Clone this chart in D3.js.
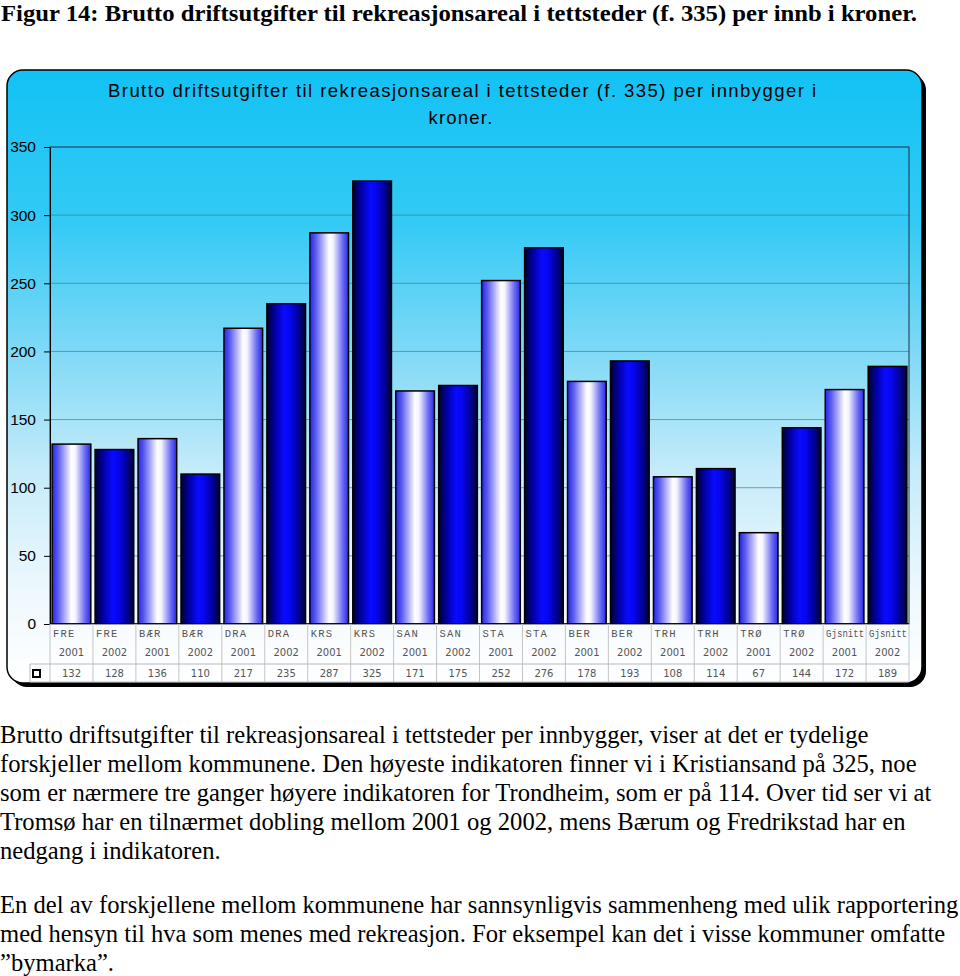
<!DOCTYPE html>
<html><head><meta charset="utf-8">
<script src="https://cdn.jsdelivr.net/npm/d3@7"></script>
<style>body{margin:0;background:#fff}svg{display:block}</style>
</head><body>
<script>
const municipalities = ["FRE","BÆR","DRA","KRS","SAN","STA","BER","TRH","TRØ","Gjsnitt"];
const years = ["2001","2002"];
const values = [132,128,136,110,217,235,287,325,171,175,252,276,178,193,108,114,67,144,172,189];
const yTicks = [0,50,100,150,200,250,300,350];
const figTitle = "Figur 14: Brutto driftsutgifter til rekreasjonsareal i tettsteder (f. 335) per innb i kroner.";
const chartTitle = ["Brutto driftsutgifter til rekreasjonsareal i tettsteder (f. 335) per innbygger i","kroner."];
const bodyLines1 = [
 "Brutto driftsutgifter til rekreasjonsareal i tettsteder per innbygger, viser at det er tydelige",
 "forskjeller mellom kommunene. Den høyeste indikatoren finner vi i Kristiansand på 325, noe",
 "som er nærmere tre ganger høyere indikatoren for Trondheim, som er på 114. Over tid ser vi at",
 "Tromsø har en tilnærmet dobling mellom 2001 og 2002, mens Bærum og Fredrikstad har en",
 "nedgang i indikatoren."];
const bodyLines2 = [
 "En del av forskjellene mellom kommunene har sannsynligvis sammenheng med ulik rapportering",
 "med hensyn til hva som menes med rekreasjon. For eksempel kan det i visse kommuner omfatte",
 "\u201Dbymarka\u201D."];

(function(){
const rows = [];
municipalities.forEach(m => years.forEach(y => rows.push({m, y})));
rows.forEach((r,i) => r.v = values[i]);

const svg = d3.select("body").append("svg").attr("width",960).attr("height",976);
const defs = svg.append("defs");

const bg = defs.append("linearGradient").attr("id","bg").attr("x1",0).attr("x2",0).attr("y1",0).attr("y2",1);
[[0,"#12c2f4"],[0.25,"#34caf5"],[0.45,"#7cd8f6"],[0.65,"#c4ebf9"],[0.85,"#eef8fd"],[1,"#ffffff"]]
  .forEach(([o,c]) => bg.append("stop").attr("offset",o).attr("stop-color",c));

const g1 = defs.append("linearGradient").attr("id","g2001");
[[0,"#2626e6"],[0.15,"#5a5af0"],[0.5,"#ffffff"],[0.6,"#f4f4ff"],[0.85,"#6a6af4"],[1,"#2828e6"]]
  .forEach(([o,c]) => g1.append("stop").attr("offset",o).attr("stop-color",c));
const g2 = defs.append("linearGradient").attr("id","g2002");
[[0,"#00002a"],[0.2,"#0000a0"],[0.45,"#0a0aff"],[0.6,"#0606f0"],[0.85,"#00008a"],[1,"#00002a"]]
  .forEach(([o,c]) => g2.append("stop").attr("offset",o).attr("stop-color",c));

// figure title
svg.append("text").attr("x",1).attr("y",21)
  .attr("font-family","Liberation Serif").attr("font-weight","bold").attr("font-size",24)
  .attr("textLength",916).attr("lengthAdjust","spacingAndGlyphs")
  .text(figTitle);

// chart box
const bx=7, by=70, bw=915, bh=613;
svg.append("rect").attr("x",bx+4).attr("y",by+4).attr("width",bw).attr("height",bh).attr("rx",16).attr("fill","#000");
svg.append("rect").attr("x",bx).attr("y",by).attr("width",bw).attr("height",bh).attr("rx",16)
  .attr("fill","url(#bg)").attr("stroke","#000").attr("stroke-width",1.5);

svg.append("text").attr("x",108).attr("y",97)
  .attr("font-family","Liberation Sans").attr("font-size",18.5)
  .attr("textLength",708).attr("lengthAdjust","spacing")
  .attr("fill","#000").text(chartTitle[0]);
svg.append("text").attr("x",461).attr("y",124).attr("text-anchor","middle")
  .attr("font-family","Liberation Sans").attr("font-size",18.5).attr("letter-spacing",1.2)
  .attr("fill","#000").text(chartTitle[1]);

const pLeft=50, pRight=909, pTop=147, pBottom=624;
const x = d3.scaleBand().domain(rows.map((r,i)=>i)).range([pLeft,pRight]).paddingInner(0.1).paddingOuter(0.05);
const xCol = d3.scaleBand().domain(rows.map((r,i)=>i)).range([pLeft,pRight]);
const y = d3.scaleLinear().domain([0,350]).range([pBottom,pTop]);

// gridlines
svg.append("g").selectAll("line").data(yTicks.filter(t=>t>0 && t<350)).join("line")
  .attr("x1",pLeft).attr("x2",pRight).attr("y1",d=>y(d)).attr("y2",d=>y(d))
  .attr("stroke","#3f7f9a").attr("stroke-opacity",0.7).attr("stroke-width",1);
// plot border
svg.append("rect").attr("x",pLeft).attr("y",pTop).attr("width",pRight-pLeft).attr("height",pBottom-pTop)
  .attr("fill","none").attr("stroke","#1a3040").attr("stroke-width",1);

// axis
const yAxis = svg.append("g").attr("transform",`translate(${pLeft},0)`)
  .call(d3.axisLeft(y).tickValues(yTicks).tickSize(6).tickPadding(8).tickFormat(d3.format("d")));
yAxis.select(".domain").attr("stroke","#000");
yAxis.selectAll(".tick line").attr("stroke","#000");
yAxis.selectAll("text").attr("font-family","Liberation Sans").attr("font-size",15.5).attr("fill","#000");

// bars
svg.append("g").selectAll("rect").data(rows).join("rect")
  .attr("x",(d,i)=>x(i)).attr("width",x.bandwidth())
  .attr("y",d=>y(d.v)).attr("height",d=>y(0)-y(d.v))
  .attr("fill",d=>d.y==="2001"?"url(#g2001)":"url(#g2002)")
  .attr("stroke","#000").attr("stroke-width",1.5);

// x-axis baseline
svg.append("line").attr("x1",pLeft).attr("x2",pRight).attr("y1",pBottom).attr("y2",pBottom).attr("stroke","#000").attr("stroke-width",1.5);

// data table
const tb = svg.append("g");
const tBottom = 682, tSep = 664;
tb.append("rect").attr("x",pLeft).attr("y",pBottom).attr("width",pRight-pLeft).attr("height",tBottom-pBottom).attr("fill","#fbfdff").attr("fill-opacity",0.6);
tb.selectAll(".vl").data(d3.range(rows.length+1)).join("line")
  .attr("x1",i=>pLeft+i*xCol.step()).attr("x2",i=>pLeft+i*xCol.step())
  .attr("y1",pBottom).attr("y2",tBottom).attr("stroke","#c4c4c4");
tb.append("line").attr("x1",30).attr("x2",pRight).attr("y1",tSep).attr("y2",tSep).attr("stroke","#b8b8b8");
tb.append("line").attr("x1",30).attr("x2",pRight).attr("y1",tBottom).attr("y2",tBottom).attr("stroke","#b8b8b8");
tb.append("line").attr("x1",30).attr("x2",30).attr("y1",tSep).attr("y2",tBottom).attr("stroke","#b8b8b8");
tb.append("rect").attr("x",33).attr("y",670).attr("width",7).attr("height",7).attr("fill","#fff").attr("stroke","#000").attr("stroke-width",2);

tb.selectAll(".l1").data(rows).join("text")
  .attr("x",(d,i)=>xCol(i)+3).attr("y",637)
  .attr("font-family","Liberation Mono").attr("font-size",10.5).attr("fill","#555")
  .attr("letter-spacing",d=>d.m.length>3?0:1.2)
  .each(function(d){ if(d.m.length>3) d3.select(this).attr("textLength",38).attr("lengthAdjust","spacingAndGlyphs"); })
  .text(d=>d.m);
tb.selectAll(".l2").data(rows).join("text")
  .attr("x",(d,i)=>xCol(i)+xCol.bandwidth()/2).attr("y",656).attr("text-anchor","middle")
  .attr("font-family","DejaVu Sans").attr("font-size",10).attr("fill","#555")
  .text(d=>d.y);
tb.selectAll(".l3").data(rows).join("text")
  .attr("x",(d,i)=>xCol(i)+xCol.bandwidth()/2).attr("y",677).attr("text-anchor","middle")
  .attr("font-family","DejaVu Sans").attr("font-size",10).attr("fill","#555")
  .text(d=>d.v);

// body text
const body = svg.append("g").attr("font-family","Liberation Serif").attr("font-size",24.6).attr("fill","#000");
body.selectAll(".b1").data(bodyLines1).join("text").attr("x",0).attr("y",(d,i)=>743+i*29).text(d=>d);
body.selectAll(".b2").data(bodyLines2).join("text").attr("x",0).attr("y",(d,i)=>913+i*29).text(d=>d);
})();
</script>
</body></html>
